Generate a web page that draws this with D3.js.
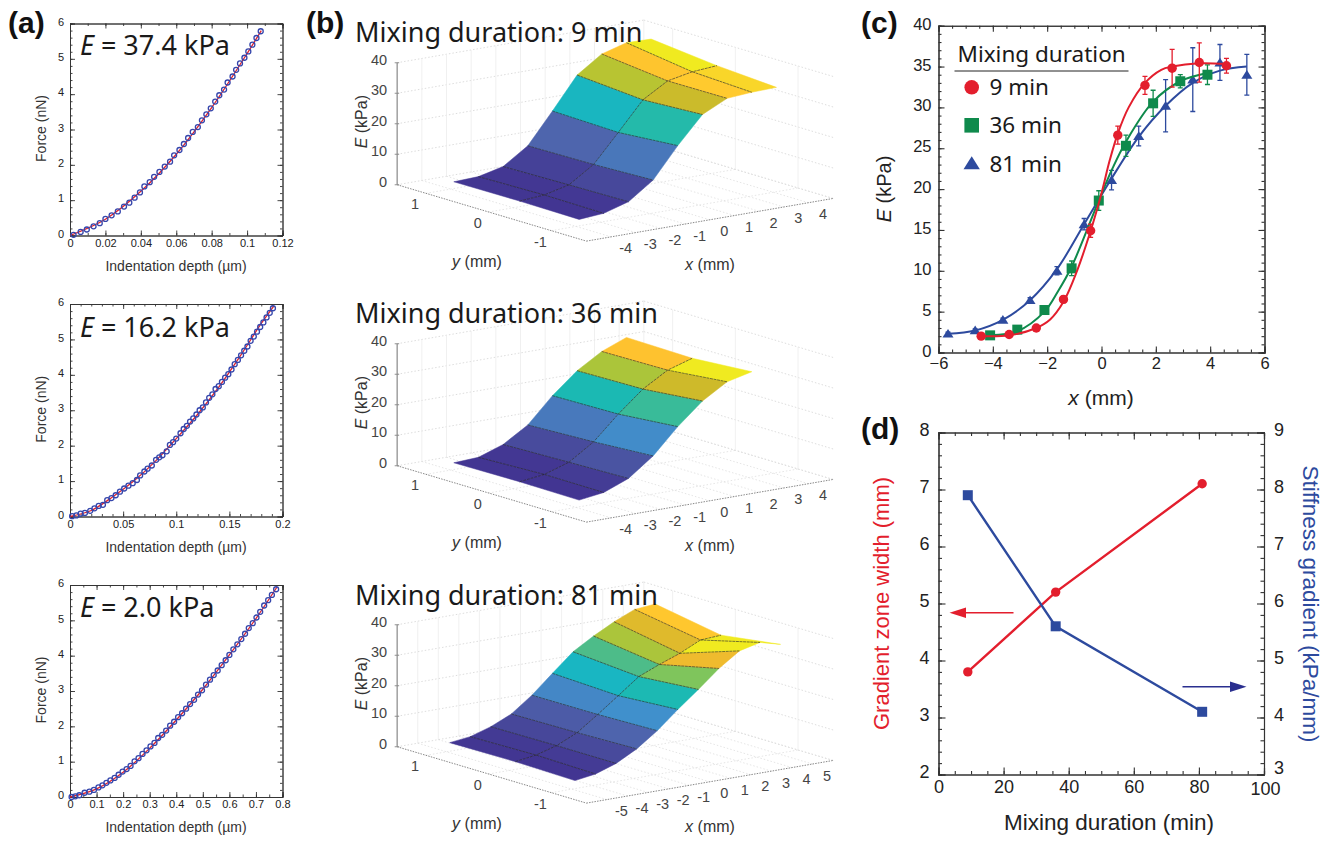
<!DOCTYPE html>
<html><head><meta charset="utf-8">
<script src="https://cdn.jsdelivr.net/npm/d3@7"></script>
<style>html,body{margin:0;padding:0;background:#fff}svg{display:block}text{font-family:"Liberation Sans",Arial,sans-serif;fill:#222}</style>
</head><body><svg id="c" width="1336" height="841"></svg>
<script>
// ---------- Panel (a): force curves, [depth, force]
const forceA1=[[.002,.02],[.006,.1],[.0095,.17],[.0133,.26],[.0168,.35],[.02,.47],[.0235,.57],[.027,.68],[.0305,.82],[.0335,.93],[.0365,1.07],[.0395,1.22],[.042,1.39],[.045,1.51],[.0475,1.66],[.0505,1.8],[.0535,1.95],[.0565,2.09],[.0588,2.27],[.0618,2.42],[.0643,2.59],[.0667,2.76],[.0693,2.93],[.0722,3.07],[.0745,3.26],[.077,3.43],[.0795,3.6],[.082,3.79],[.0843,3.97],[.087,4.13],[.089,4.33],[.0918,4.5],[.0938,4.69],[.096,4.87],[.0985,5.03],[.1007,5.21],[.103,5.4],[.1053,5.59],[.1077,5.78]];
const forceA2=[[.002,.01],[.006,.03],[.01,.08],[.014,.1],[.019,.16],[.023,.23],[.027,.3],[.031,.33],[.035,.46],[.039,.52],[.043,.6],[.047,.7],[.051,.79],[.055,.87],[.059,.94],[.063,1.03],[.066,1.16],[.07,1.27],[.073,1.35],[.077,1.44],[.081,1.6],[.084,1.67],[.087,1.73],[.091,1.84],[.094,2.02],[.097,2.1],[.1,2.2],[.104,2.35],[.107,2.47],[.11,2.56],[.113,2.68],[.116,2.77],[.119,2.88],[.122,3],[.125,3.08],[.128,3.22],[.131,3.35],[.134,3.45],[.137,3.6],[.14,3.68],[.143,3.8],[.146,3.92],[.149,4.02],[.152,4.15],[.155,4.3],[.158,4.42],[.161,4.55],[.164,4.68],[.167,4.8],[.17,4.96],[.173,5.08],[.176,5.22],[.179,5.35],[.182,5.48],[.185,5.62],[.188,5.75],[.191,5.88]];
const forceA3=[[.006,0],[.02,.02],[.035,.05],[.055,.12],[.073,.15],[.09,.2],[.107,.27],[.122,.33],[.137,.4],[.152,.47],[.168,.54],[.183,.63],[.198,.72],[.213,.79],[.228,.88],[.243,1.01],[.258,1.1],[.273,1.22],[.288,1.32],[.303,1.43],[.318,1.53],[.332,1.67],[.347,1.76],[.362,1.88],[.377,2.02],[.392,2.13],[.407,2.26],[.422,2.37],[.437,2.5],[.452,2.63],[.467,2.75],[.482,2.9],[.497,3.02],[.512,3.18],[.527,3.32],[.541,3.45],[.556,3.58],[.571,3.73],[.586,3.87],[.6,4.02],[.615,4.18],[.63,4.32],[.645,4.47],[.659,4.62],[.673,4.78],[.688,4.92],[.702,5.08],[.716,5.24],[.731,5.42],[.746,5.57],[.76,5.72],[.776,5.88]];
const fitA1=[[0,0],[.02,.46],[.04,1.25],[.06,2.3],[.08,3.62],[.1,5.15],[.108,5.8]];
const fitA2=[[0,0],[.02,.17],[.04,.55],[.06,1],[.08,1.55],[.1,2.2],[.12,2.88],[.14,3.65],[.16,4.52],[.18,5.45],[.192,5.95]];
const fitA3=[[0,0],[.1,.23],[.2,.7],[.3,1.38],[.4,2.18],[.5,3.05],[.6,4.02],[.7,5.05],[.78,5.95]];
const ticksA1=[0,.02,.04,.06,.08,.1,.12], ticksA2=[0,.05,.1,.15,.2], ticksA3=[0,.1,.2,.3,.4,.5,.6,.7,.8];
const modulusLabels=["37.4","16.2","2.0"];

// ---------- Panel (b): surfaces, E (kPa) per y row, over x grids
const yRows=[.95,-.1,-1.05];
const gridX9=[-4,-3,-2,-1,0,1,2,3,4];
const surf9=[[2.7,3,4.9,10.3,20.3,30.7,36.2,38.5,38.3],[2.8,3.4,5.3,10.6,19.7,29,33.8,35.4,36],[2.6,3.2,5.6,11.3,21.2,30,33.9,34.5,34.7]];
const gridX36=[-4,-3,-2,-1,0,1,2,3];
const surf36=[[2.7,3.1,5.9,10.9,19.1,25.9,30.8,34],[2.9,3.9,6.5,11.8,19.5,26.3,31.1,33.6],[2.7,3.8,7,13,21.2,28.2,33.1,35]];
const gridX81=[-5,-4,-3,-2,-1,0,1,2,3,4,5];
const surf81=[[3.3,4.1,6.2,9.2,14.2,20.2,26.1,30.1,33.6,36.5,37.1],[3.5,4.5,6.4,9.5,14.3,19.3,24.4,27.2,29.7,32.9,33.3],[3.1,4.1,6.4,10,14.8,20.6,26,31.7,36.3,37.9,36.1]];
const durations=["9","36","81"];
const parulaStops=[0,.06,.1,.22,.3,.36,.47,.55,.66,.72,.78,.84,.9,.95,1];
const parulaColors=["#423592","#454097","#484a9c","#4e66ae","#4585c4","#4090cc","#18b5c6","#1cbab0","#52bc85","#8cc850","#b7c432","#ceba2a","#fdbb2f","#ffc92e","#f0ea20"];

// ---------- Panel (c): [x, E, err]
const pts9=[[-4.43,2,.2],[-3.4,2.2,.2],[-2.4,3,.3],[-1.4,6.5,.4],[-.4,14.9,.8],[.6,26.6,1.1],[1.6,32.7,1.1],[2.6,34.8,2.3],[3.6,35.5,2.4],[4.6,35.1,.9]];
const pts36=[[-4.1,2.1,.2],[-3.1,2.8,.2],[-2.1,5.2,.3],[-1.1,10.3,.9],[-.1,18.6,1.2],[.9,25.3,1.3],[1.9,30.5,1.6],[2.9,33.2,.8],[3.9,34,1.2]];
const pts81=[[-5.65,2.3,.2],[-4.65,2.7,.2],[-3.63,4,.2],[-2.63,6.4,.3],[-1.64,10,.5],[-.64,15.7,.7],[.37,21.1,1.2],[1.37,26.5,1.2],[2.36,30.2,3.2],[3.36,33.4,3.9],[4.36,35.5,2.2],[5.35,34,2.5]];
const fit9=[[-4.43,2],[-3.4,2.1],[-2.4,3],[-1.9,4],[-1.4,6.2],[-.9,10],[-.4,14.9],[0,19.5],[.3,23.5],[.6,26.8],[1,30],[1.6,33],[2.2,34.6],[2.6,35],[3.6,35.4],[4.6,35.3]];
const fit36=[[-4.1,2.1],[-3.1,2.6],[-2.1,5],[-1.6,7.5],[-1.1,10.5],[-.1,18.6],[.4,22.5],[.9,25.8],[1.9,30.7],[2.9,33.2],[3.9,34.2]];
const fit81=[[-5.65,2.3],[-4.65,2.7],[-3.63,4],[-2.63,6.4],[-1.64,10.2],[-.64,15.7],[.37,21.3],[1.37,26.4],[2.36,30.2],[3.36,33],[4.36,34.5],[5.35,35]];

// ---------- Panel (d)
const mixMinutes=[9,36,81];
const zoneWidth=[3.8,5.2,7.1];
const stiffGrad=[7.9,5.6,4.1];

const RED="#e31e2d",GREEN="#0f8a4c",BLUE="#2d4a9e";
const svg=d3.select("#c");
const txt=(x,y,s,o={})=>{const t=svg.append("text").attr("x",x).attr("y",y).attr("font-size",o.size||12).attr("text-anchor",o.anchor||"start");
  if(o.family)t.style("font-family",o.family); if(o.weight)t.attr("font-weight",o.weight); if(o.fill)t.style("fill",o.fill);
  if(o.rot!=null)t.attr("transform",`rotate(${o.rot} ${x} ${y})`);
  (Array.isArray(s)?s:[s]).forEach(p=>{const sp=t.append("tspan");if(p.it){sp.attr("font-style","italic").text(p.it)}else sp.text(p)});return t};

function frame(x,y,o){
  const g=svg.append("g");
  const L=x.range()[0],R=x.range()[1],B=y.range()[0],T=y.range()[1];
  const size=o.size;
  const style=(a)=>{a.selectAll(".domain").attr("stroke","#333").attr("stroke-width",o.sw||1);a.selectAll(".tick line").attr("stroke","#333").attr("stroke-width",o.sw||1)};
  const add=(ax,tx,dy)=>{const a=g.append("g").attr("transform",tx).call(ax);style(a);a.selectAll("text").style("font-size",size+"px").style("font-family",'"Liberation Sans",Arial,sans-serif').style("fill","#222");if(dy)a.selectAll("text").attr("transform",`translate(0,${dy})`);return a};
  const yR=o.yRight||y;
  add(d3.axisBottom(x).tickValues(o.xMinor).tickSize(-o.minor).tickFormat(""),`translate(0,${B})`);
  add(d3.axisTop(x).tickValues(o.xMinor).tickSize(-o.minor).tickFormat(""),`translate(0,${T})`);
  add(d3.axisLeft(y).tickValues(o.yMinor).tickSize(-o.minor).tickFormat(""),`translate(${L},0)`);
  add(d3.axisRight(yR).tickValues(o.yRMinor||o.yMinor).tickSize(-o.minor).tickFormat(""),`translate(${R},0)`);
  add(d3.axisBottom(x).tickValues(o.xMajor).tickSize(-o.major).tickPadding(o.padX).tickFormat(d3.format("~g")),`translate(0,${B})`);
  add(d3.axisTop(x).tickValues(o.xMajor).tickSize(-o.major).tickFormat(""),`translate(0,${T})`);
  add(d3.axisLeft(y).tickValues(o.yMajor).tickSize(-o.major).tickPadding(o.padY).tickFormat(d3.format("~g")),`translate(${L},0)`,o.dy);
  add(d3.axisRight(yR).tickValues(o.yRMajor||o.yMajor).tickSize(-o.major).tickPadding(o.padY+1).tickFormat(o.yRight?d3.format("~g"):""),`translate(${R},0)`,o.dy);
  return g;
}
const range=(a,b,s)=>d3.range(Math.round((b-a)/s)+1).map(i=>a+i*s);

// ---------- draw (a)
[[forceA1,fitA1,ticksA1,.12,.01,23.5,235.5,55],[forceA2,fitA2,ticksA2,.2,.01,304,516.5,337],[forceA3,fitA3,ticksA3,.8,.05,585,797,617]].forEach((p,i)=>{
  const [pts,fit,ticks,xmax,minor,top,bot,base]=p;
  const x=d3.scaleLinear().domain([0,xmax]).range([70,282.5]);
  const y=d3.scaleLinear().domain([0,6]).range([bot,top]);
  frame(x,y,{size:11,padX:3.5,padY:6,dy:-1.8,major:5,minor:2.5,xMajor:ticks,xMinor:range(0,xmax,minor),yMajor:range(0,6,1),yMinor:range(0,6,.2),sw:.9});
  svg.append("path").attr("d",d3.line().x(d=>x(d[0])).y(d=>y(d[1])).curve(d3.curveCatmullRom)(fit)).attr("fill","none").attr("stroke","#e0202c").attr("stroke-width",1.3);
  svg.append("g").selectAll("circle").data(pts).join("circle").attr("cx",d=>x(d[0])).attr("cy",d=>y(d[1])).attr("r",2.5).attr("fill","none").attr("stroke","#3546ac").attr("stroke-width",1.3);
  txt(46,(top+bot)/2-1,"Force (nN)",{size:14,anchor:"middle",rot:-90,fill:"#333"});
  txt(176,bot+35,"Indentation depth (µm)",{size:14,anchor:"middle",fill:"#333"});
  txt(80,base,[{it:"E"}," = "+modulusLabels[i]+" kPa"],{size:27,family:'"Noto Sans",sans-serif',fill:"#1a1a1a"});
});

// ---------- draw (b)
function surface(grid,surf,oy,xHalf,climFar,climNear,title,titleY){
  const cx=612,hx=740/6,hv=128/6;
  const X=d3.scaleLinear().domain([-xHalf,xHalf]).range([-hx,hx]);
  const Xv=d3.scaleLinear().domain([-xHalf,xHalf]).range([hv,-hv]);
  const Y=d3.scaleLinear().domain([-1,1]).range([188/3,-188/3]);
  const Yv=d3.scaleLinear().domain([-1,1]).range([56/3,-56/3]);
  const Z=d3.scaleLinear().domain([0,40]).range([0,-122]);
  const P=(x,y,z)=>[cx+X(x)+Y(y),oy+Xv(x)+Yv(y)+Z(z)];
  const ymin=-1.56,ymax=1.46,xmin=-xHalf,xmax=xHalf;
  const G=svg.append("g");
  const seg=(a,b,st,w,da)=>G.append("line").attr("x1",a[0]).attr("y1",a[1]).attr("x2",b[0]).attr("y2",b[1]).attr("stroke",st).attr("stroke-width",w).attr("stroke-dasharray",da||null);
  const gridC="#d4d4d4",da="1.5 2";
  const xt=range(-xHalf+1,xHalf-1,1), yt=[1,0,-1], zt=[0,10,20,30,40];
  zt.forEach(z=>{seg(P(xmin,ymax,z),P(xmax,ymax,z),gridC,.8,da);seg(P(xmax,ymax,z),P(xmax,ymin,z),gridC,.8,da);});
  xt.concat([xmax]).forEach(x=>{seg(P(x,ymax,0),P(x,ymax,40),"#ececec",.8);seg(P(x,ymax,0),P(x,ymin,0),"#dedede",.8,da);});
  yt.forEach(y=>{seg(P(xmax,y,0),P(xmax,y,40),"#ececec",.8);seg(P(xmin,y,0),P(xmax,y,0),"#dedede",.8,da);});
  seg(P(xmin,ymax,0),P(xmin,ymin,0),"#888",1,"1.5 1.2");
  seg(P(xmin,ymin,0),P(xmax,ymin,0),"#888",1,"1.5 1.2");
  seg(P(xmin,ymax,0),P(xmin,ymax,40),"#999",1.4);
  zt.forEach(z=>{const p=P(xmin,ymax,z);seg([p[0]-2.5,p[1]],[p[0]+2,p[1]],"#888",.9);
    txt(p[0]-10,p[1]+2,String(z),{size:14.5,anchor:"end",fill:"#444"});});
  xt.forEach(x=>{const p=P(x,ymin,0);txt(p[0]+14.5,p[1]+16.5,String(x),{size:14.5,anchor:"middle",fill:"#444"});});
  yt.forEach(y=>{const p=P(xmin,y,0);txt(p[0]-11,p[1]+16,String(y),{size:14.5,anchor:"middle",fill:"#444"});});
  txt(367,oy-69,[{it:"E"}," (kPa)"],{size:16,anchor:"middle",rot:-90,fill:"#333"});
  txt(477,oy+76,[{it:"y"}," (mm)"],{size:16,anchor:"middle",fill:"#333"});
  txt(710,oy+79,[{it:"x"}," (mm)"],{size:16,anchor:"middle",fill:"#333"});
  const col=d3.scaleLinear().domain(parulaStops).range(parulaColors).clamp(true);
  // cells, far row first
  [[0,1,0,climFar],[1,2,2,climNear]].forEach(([r0,r1,rc,clim])=>{
    const t=d3.scaleLinear().domain(clim).range([0,1]);
    grid.slice(0,-1).forEach((gx,i)=>{
      const pts=[P(gx,yRows[r0],surf[r0][i]),P(grid[i+1],yRows[r0],surf[r0][i+1]),P(grid[i+1],yRows[r1],surf[r1][i+1]),P(gx,yRows[r1],surf[r1][i])];
      const c=col(t(surf[rc][i]));
      G.append("polygon").attr("points",pts.join(" ")).attr("fill",c).attr("stroke",c).attr("stroke-width",.5);
    });
  });
  // mesh lines
  const line=d3.line();
  G.append("path").attr("d",line(grid.map((gx,i)=>P(gx,yRows[1],surf[1][i])))).attr("fill","none").attr("stroke","#222").attr("stroke-width",.6).attr("stroke-dasharray","3 .8");
  grid.slice(1,-1).forEach((gx,k)=>{const i=k+1;
    G.append("path").attr("d",line(yRows.map((yy,r)=>P(gx,yy,surf[r][i])))).attr("fill","none").attr("stroke","#222").attr("stroke-width",.6).attr("stroke-dasharray","3 .6");});
  txt(355,titleY,"Mixing duration: "+title+" min",{size:27,family:'"Noto Sans",sans-serif',fill:"#1a1a1a"});
}
surface(gridX9,surf9,190.67,5,[2.6,38.5],[2.6,35.5],durations[0],42);
surface(gridX36,surf36,471.67,5,[2.7,33.1],[2.7,33.1],durations[1],323);
surface(gridX81,surf81,752.67,6,[3.1,38.5],[3.1,35.5],durations[2],605);

// ---------- draw (c)
{
  const x=d3.scaleLinear().domain([-6,6]).range([938.5,1264.5]);
  const y=d3.scaleLinear().domain([0,40]).range([352.5,25.7]);
  frame(x,y,{size:16.5,padX:5,padY:7,dy:-1.7,major:6,minor:3,xMajor:range(-6,6,2),xMinor:range(-6,6,.5),yMajor:range(0,40,5),yMinor:range(0,40,1),sw:1.1});
  const series=[[pts81,fit81,BLUE,"tri"],[pts36,fit36,GREEN,"sq"],[pts9,fit9,RED,"ci"]];
  const mark=(g,type,cx,cy,col,s)=>{
    if(type==="ci")g.append("circle").attr("cx",cx).attr("cy",cy).attr("r",s).attr("fill",col);
    else if(type==="sq")g.append("rect").attr("x",cx-s).attr("y",cy-s).attr("width",2*s).attr("height",2*s).attr("fill",col);
    else g.append("path").attr("d",`M${cx},${cy-s*1.05}L${cx+s*1.2},${cy+s*.85}L${cx-s*1.2},${cy+s*.85}Z`).attr("fill",col);
  };
  series.forEach(([pts,fit,col,type])=>{
    const g=svg.append("g");
    g.append("path").attr("d",d3.line().x(d=>x(d[0])).y(d=>y(d[1])).curve(d3.curveCatmullRom.alpha(.5))(fit)).attr("fill","none").attr("stroke",col).attr("stroke-width",2);
    pts.forEach(d=>{
      const px=x(d[0]);
      g.append("path").attr("d",`M${px-2.5},${y(d[1]+d[2])}H${px+2.5}M${px},${y(d[1]+d[2])}V${y(d[1]-d[2])}M${px-2.5},${y(d[1]-d[2])}H${px+2.5}`).attr("stroke",col).attr("stroke-width",1.3).attr("fill","none");
      mark(g,type,px,y(d[1]),col,type==="ci"?4.7:type==="sq"?5:4.6);
    });
  });
  txt(1101,404.5,[{it:"x"}," (mm)"],{size:21,anchor:"middle",fill:"#222"});
  txt(891,189,[{it:"E"}," (kPa)"],{size:20,anchor:"middle",rot:-90,fill:"#222"});
  txt(957.5,61.5,"Mixing duration",{size:22.5,family:'"Noto Sans",sans-serif',fill:"#1a1a1a"});
  svg.append("line").attr("x1",954.5).attr("x2",1128.5).attr("y1",71).attr("y2",71).attr("stroke","#222").attr("stroke-width",1);
  const leg=svg.append("g");
  [["ci",RED,87.3,"9 min",94.5],["sq",GREEN,125.3,"36 min",132.7],["tri",BLUE,163.5,"81 min",171.5]].forEach(([t,c,yy,l,b])=>{
    mark(leg,t,971.7,yy,c,t==="ci"?7.3:t==="sq"?7.3:6.8);
    txt(989.5,b,l,{size:22.5,family:'"Noto Sans",sans-serif',fill:"#1a1a1a"});
  });
}

// ---------- draw (d)
{
  const x=d3.scaleLinear().domain([0,100]).range([938.5,1264]);
  const y=d3.scaleLinear().domain([2,8]).range([774.5,432.5]);
  const yR=d3.scaleLinear().domain([3,9]).range([774.5,432.5]);
  const fr=frame(x,y,{size:18,padX:5.5,padY:9,dy:-2.7,major:7,minor:3.5,xMajor:range(0,100,20),xMinor:range(0,100,5),yMajor:range(2,8,1),yMinor:range(2,8,.2),yRight:yR,yRMajor:range(3,9,1),yRMinor:range(3,9,.2),sw:1.1});
  // the corner labels "3" and "100" sit very close: ease them apart
  fr.selectAll("text").filter(function(){return this.textContent==="3"&&+this.getAttribute("x")>0}).filter(d=>d===3).attr("transform","translate(0,-6.5)");
  fr.selectAll("text").filter(d=>d===100).attr("transform","translate(1,2)");
  const rd=mixMinutes.map((m,i)=>[x(m),y(zoneWidth[i])]);
  const bl=mixMinutes.map((m,i)=>[x(m),yR(stiffGrad[i])]);
  svg.append("path").attr("d",d3.line()(rd)).attr("fill","none").attr("stroke",RED).attr("stroke-width",2.4);
  svg.append("path").attr("d",d3.line()(bl)).attr("fill","none").attr("stroke",BLUE).attr("stroke-width",2.4);
  svg.append("g").selectAll("circle").data(rd).join("circle").attr("cx",d=>d[0]).attr("cy",d=>d[1]).attr("r",4.7).attr("fill",RED);
  svg.append("g").selectAll("rect").data(bl).join("rect").attr("x",d=>d[0]-5).attr("y",d=>d[1]-5).attr("width",10).attr("height",10).attr("fill",BLUE);
  svg.append("path").attr("d","M1013.5,612.7H960").attr("stroke",RED).attr("stroke-width",1.6);
  svg.append("path").attr("d","M949.5,612.7L966,607.5V617.9Z").attr("fill",RED);
  svg.append("path").attr("d","M1182.5,686.7H1235").attr("stroke","#2a2f8f").attr("stroke-width",1.6);
  svg.append("path").attr("d","M1246.5,686.7L1230,681.5V691.9Z").attr("fill","#2a2f8f");
  txt(889,603.5,"Gradient zone width (mm)",{size:22,anchor:"middle",rot:-90,fill:RED});
  txt(1303,604,"Stiffness gradient (kPa/mm)",{size:22.5,anchor:"middle",rot:90,fill:BLUE});
  txt(1109,830,"Mixing duration (min)",{size:22.5,anchor:"middle",fill:"#222"});
}

// ---------- panel letters
[["(a)",8,33],["(b)",306,33],["(c)",861,33],["(d)",861,439]].forEach(([s,x,y])=>txt(x,y,s,{size:30,weight:"bold",fill:"#111"}));
</script></body></html>
